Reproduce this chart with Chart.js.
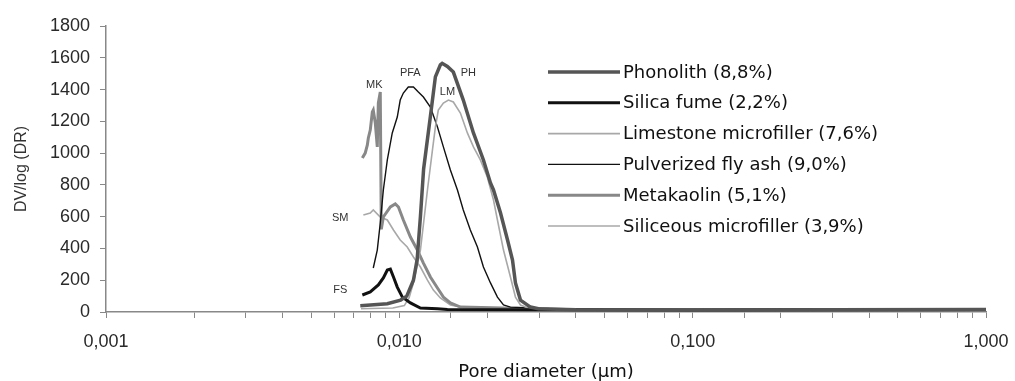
<!DOCTYPE html>
<html>
<head>
<meta charset="utf-8">
<script src="https://cdn.jsdelivr.net/npm/chart.js@4.4.0/dist/chart.umd.min.js"></script>
<style>
html, body { margin: 0; padding: 0; background: #fff; }
</style>
</head>
<body>
<canvas id="poreChart" width="1015" height="381"></canvas>
<script>
// legend names, in legend order
const seriesNames = [
    "Phonolith (8,8%)",
    "Silica fume (2,2%)",
    "Limestone microfiller (7,6%)",
    "Pulverized fly ash (9,0%)",
    "Metakaolin (5,1%)",
    "Siliceous microfiller (3,9%)"
];

// pore diameter (µm) / DV/log(DR)
const phDiam = [0.00736, 0.0091, 0.0101, 0.0106, 0.01117, 0.0115, 0.0118, 0.0121, 0.01276, 0.01327, 0.0138, 0.0140, 0.01458, 0.01528, 0.01652, 0.01789, 0.01935, 0.02045, 0.02094, 0.02213, 0.02338, 0.02431, 0.02488, 0.02588, 0.02799, 0.0298];
const phVal  = [40, 52, 75, 100, 200, 330, 600, 900, 1230, 1480, 1555, 1565, 1545, 1510, 1334, 1127, 957, 812, 768, 623, 453, 327, 183, 75, 31, 20];

const fsDiam = [0.00748, 0.00796, 0.00848, 0.00882, 0.0091, 0.00932, 0.00955, 0.00984, 0.01024, 0.01091, 0.0118, 0.01349, 0.01458];
const fsVal  = [107, 126, 170, 214, 264, 270, 220, 157, 94, 57, 25, 20, 15];

const lmDiam = [0.0074, 0.0095, 0.0104, 0.0108, 0.01117, 0.0118, 0.01247, 0.01297, 0.01327, 0.01358, 0.01413, 0.0147, 0.01528, 0.01615, 0.01706, 0.01789, 0.01889, 0.01995, 0.02094, 0.0216, 0.02265, 0.02392, 0.02488, 0.02588, 0.028];
const lmVal  = [20, 25, 40, 90, 183, 390, 768, 1020, 1164, 1271, 1315, 1334, 1322, 1252, 1127, 1039, 957, 850, 705, 579, 390, 220, 94, 44, 19];

const pfaDiam = [0.00815, 0.00841, 0.00861, 0.00882, 0.0091, 0.00946, 0.00984, 0.01007, 0.01032, 0.01073, 0.01117, 0.01161, 0.01208, 0.01276, 0.01349, 0.01413, 0.01493, 0.01578, 0.01652, 0.01746, 0.01846, 0.01935, 0.02045, 0.0216, 0.02265, 0.02392];
const pfaVal  = [277, 390, 560, 768, 957, 1127, 1227, 1334, 1378, 1416, 1416, 1384, 1353, 1290, 1164, 1039, 894, 768, 642, 516, 409, 283, 183, 94, 44, 31];

const mkDiam = [0.00748, 0.00765, 0.00778, 0.00784, 0.00796, 0.00809, 0.00815, 0.00828, 0.00841, 0.00848, 0.00861, 0.00868, 0.00882, 0.00932, 0.00969, 0.00993, 0.01032, 0.01091, 0.01152, 0.01208, 0.01276, 0.01349, 0.01413, 0.01493, 0.01615];
const mkVal  = [969, 1000, 1051, 1095, 1145, 1259, 1271, 1190, 1039, 1315, 1384, 520, 598, 661, 680, 661, 579, 472, 390, 308, 220, 151, 94, 57, 31];

const smDiam = [0.00754, 0.00796, 0.00815, 0.00861, 0.0091, 0.00955, 0.01007, 0.01064, 0.01117, 0.0118, 0.01247, 0.01306, 0.0138, 0.01493, 0.01615];
const smVal  = [610, 623, 642, 598, 579, 516, 453, 409, 346, 283, 201, 138, 88, 44, 31];

// common flat tail out to 1 µm
const tailDiam = [0.04, 0.1, 0.3, 1.0];
const tailVal  = [14, 12, 14, 16];

// tick labels
const xTickLabels = ["0,001", "0,010", "0,100", "1,000"];
const yTickStep = 200;

// curve tags (position in data units)
const tagText = ["MK", "PFA", "PH", "LM", "SM", "FS"];
const tagDiam = [0.00822, 0.0109, 0.0172, 0.01459, 0.00629, 0.00629];
const tagVal  = [1429, 1504, 1504, 1385, 592, 138];

function toPoints(diams, vals) {
    const pts = [];
    for (let i = 0; i < diams.length; i++) {
        pts.push({ x: diams[i], y: vals[i] });
    }
    for (let i = 0; i < tailDiam.length; i++) {
        pts.push({ x: tailDiam[i], y: tailVal[i] });
    }
    return pts;
}

const legendFont = "18px 'DejaVu Sans', sans-serif";

// draws the legend box and the little curve tags
const extrasPlugin = {
    id: "extras",
    afterDraw(chart) {
        const ctx = chart.ctx;
        const xs = chart.scales.x;
        const ys = chart.scales.y;
        ctx.save();

        // tags
        ctx.font = "11px 'Liberation Sans', Arial, sans-serif";
        ctx.fillStyle = "#333";
        ctx.textAlign = "center";
        ctx.textBaseline = "middle";
        for (let i = 0; i < tagText.length; i++) {
            ctx.fillText(tagText[i], xs.getPixelForValue(tagDiam[i]), ys.getPixelForValue(tagVal[i]));
        }

        // legend
        ctx.font = legendFont;
        ctx.textAlign = "left";
        ctx.fillStyle = "#111";
        chart.data.datasets.forEach((ds, i) => {
            const y = 72 + i * 30.8;
            ctx.strokeStyle = ds.borderColor;
            ctx.lineWidth = ds.borderWidth;
            ctx.beginPath();
            ctx.moveTo(548, y);
            ctx.lineTo(620, y);
            ctx.stroke();
            ctx.fillText(ds.label, 623, y + 1);
        });
        ctx.restore();
    }
};

const tickFont = { family: "'Liberation Sans', Arial, sans-serif", size: 18 };

new Chart(document.getElementById("poreChart"), {
    type: "scatter",
    data: {
        datasets: [
            { label: seriesNames[0], data: toPoints(phDiam, phVal), borderColor: "#555555", borderWidth: 3.5 },
            { label: seriesNames[1], data: toPoints(fsDiam, fsVal), borderColor: "#111111", borderWidth: 3 },
            { label: seriesNames[2], data: toPoints(lmDiam, lmVal), borderColor: "#a8a8a8", borderWidth: 1.6 },
            { label: seriesNames[3], data: toPoints(pfaDiam, pfaVal), borderColor: "#111111", borderWidth: 1.4 },
            { label: seriesNames[4], data: toPoints(mkDiam, mkVal), borderColor: "#888888", borderWidth: 3 },
            { label: seriesNames[5], data: toPoints(smDiam, smVal), borderColor: "#a8a8a8", borderWidth: 1.6 }
        ].map(ds => Object.assign(ds, { showLine: true, pointRadius: 0, tension: 0, fill: false }))
    },
    options: {
        responsive: false,
        animation: false,
        devicePixelRatio: 1,
        layout: { padding: { top: 26, right: 0, left: 0, bottom: 0 } },
        plugins: {
            legend: { display: false },
            tooltip: { enabled: false }
        },
        scales: {
            x: {
                type: "logarithmic",
                min: 0.001,
                max: 1,
                afterFit: s => {
                    s.height = 69;
                    s.paddingLeft = 0;
                    s.paddingRight = 29;
                },
                border: { color: "#888", width: 1.5 },
                grid: { drawOnChartArea: false, drawTicks: true, tickLength: 6, color: "#888" },
                ticks: {
                    autoSkip: false,
                    maxRotation: 0,
                    padding: 13,
                    color: "#2a2a2a",
                    font: tickFont,
                    callback: function(value) {
                        const e = Math.log10(value);
                        if (Math.abs(e - Math.round(e)) < 1e-6) {
                            return xTickLabels[Math.round(e) + 3];
                        }
                        return "";
                    }
                },
                title: {
                    display: true,
                    text: "Pore diameter (µm)",
                    color: "#111",
                    font: { family: "'DejaVu Sans', sans-serif", size: 18, lineHeight: 1 },
                    padding: { top: 0, bottom: 0 }
                }
            },
            y: {
                min: 0,
                max: 1800,
                afterFit: s => { s.width = 106; },
                border: { color: "#888", width: 1.5 },
                grid: { drawOnChartArea: false, drawTicks: true, tickLength: 6, color: "#888" },
                ticks: {
                    stepSize: yTickStep,
                    padding: 10,
                    color: "#2a2a2a",
                    font: tickFont,
                    callback: value => String(value)
                },
                title: {
                    display: true,
                    text: "DV/log (DR)",
                    color: "#333",
                    font: { family: "'Liberation Sans', Arial, sans-serif", size: 16 },
                    padding: { top: 12, bottom: 0 }
                }
            }
        }
    },
    plugins: [extrasPlugin]
});
</script>
</body>
</html>
